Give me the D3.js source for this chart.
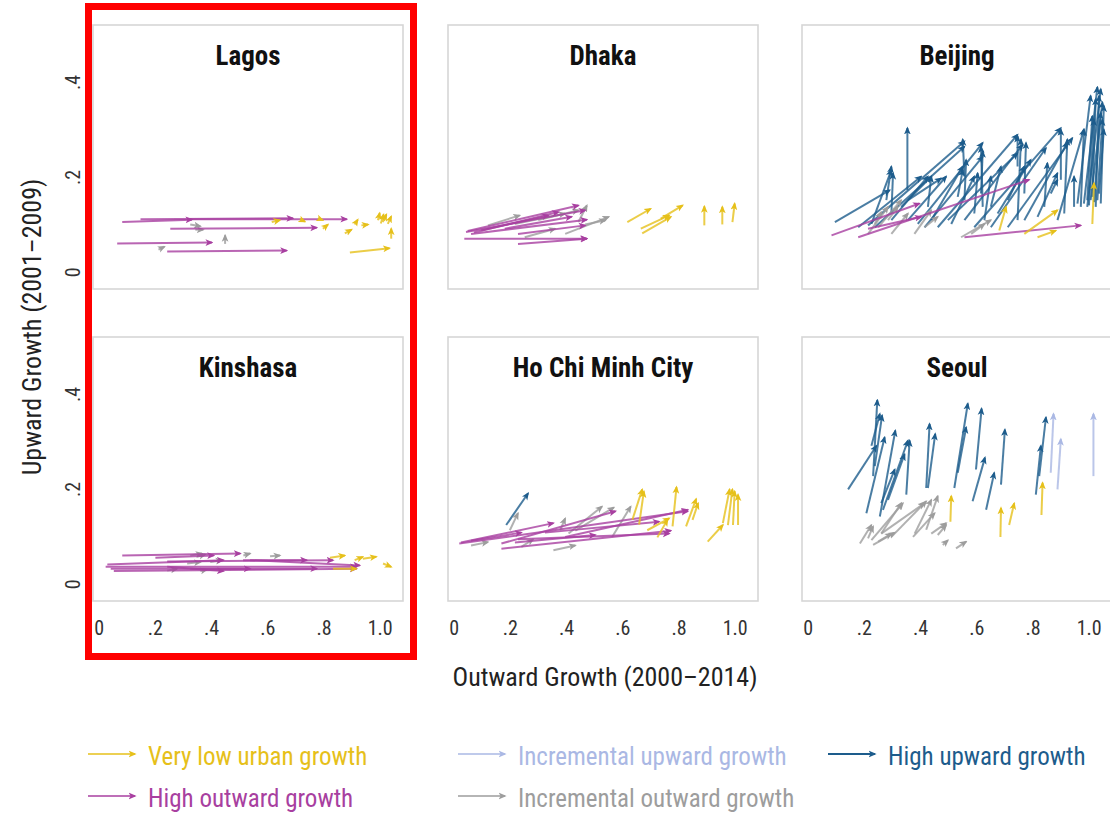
<!DOCTYPE html>
<html><head><meta charset="utf-8">
<script src="https://cdn.jsdelivr.net/npm/d3@7"></script>
<style>
body{margin:0;background:#fff;}
svg text{font-family:"Liberation Sans Narrow","Arial Narrow","Roboto Condensed","DejaVu Sans",sans-serif;font-stretch:condensed;}
</style></head><body>
<svg id="c" width="1110" height="815"></svg>
<script>
// ---------- data ----------
const categories = ["low", "out", "incUp", "incOut", "up"];
const categoryLabels = ["Very low urban growth", "High outward growth", "Incremental upward growth", "Incremental outward growth", "High upward growth"];
const categoryColors = ["#e6c01a", "#a83fa0", "#aab8e4", "#9d9d9d", "#1d5c8c"];
const cities = ["Lagos", "Dhaka", "Beijing", "Kinshasa", "Ho Chi Minh City", "Seoul"];
const xTicks = [0, 0.2, 0.4, 0.6, 0.8, 1.0];
const xTickLabels = ["0", ".2", ".4", ".6", ".8", "1.0"];
const yTicks = [0, 0.2, 0.4];
const yTickLabels = ["0", ".2", ".4"];
const xTitle = "Outward Growth (2000\u20132014)";
const yTitle = "Upward Growth (2001\u20132009)";

// each arrow: [category, outward start, upward start, outward end, upward end]
const lagos = [
 ["out",0.084,0.105,0.332,0.110],["out",0.149,0.111,0.691,0.113],["out",0.326,0.111,0.883,0.111],
 ["out",0.255,0.091,0.776,0.093],["out",0.066,0.060,0.403,0.062],["out",0.244,0.043,0.669,0.045],
 ["incOut",0.326,0.100,0.362,0.096],["incOut",0.344,0.089,0.372,0.089],["incOut",0.213,0.047,0.234,0.053],
 ["incOut",0.450,0.059,0.450,0.077],
 ["low",0.616,0.105,0.645,0.109],["low",0.716,0.111,0.734,0.106],["low",0.780,0.113,0.798,0.109],
 ["low",0.798,0.091,0.816,0.100],["low",0.876,0.081,0.900,0.089],["low",0.911,0.100,0.922,0.110],
 ["low",0.935,0.098,0.959,0.100],["low",0.994,0.109,1.000,0.124],["low",1.004,0.102,1.014,0.121],
 ["low",1.011,0.105,1.024,0.121],["low",1.029,0.101,1.041,0.117],["low",1.041,0.070,1.041,0.091],
 ["low",0.894,0.041,1.035,0.050]
];
const kinshasa = [
 ["out",0.084,0.060,0.504,0.064],["out",0.202,0.055,0.409,0.060],["out",0.031,0.041,0.444,0.050],
 ["out",0.244,0.047,0.834,0.050],["out",0.025,0.036,0.917,0.036],["out",0.043,0.032,0.539,0.032],
 ["out",0.054,0.027,0.917,0.032],["out",0.514,0.050,0.740,0.050],["out",0.326,0.032,0.776,0.032],
 ["out",0.244,0.036,0.444,0.027],["out",0.539,0.050,0.929,0.039],
 ["incOut",0.326,0.060,0.368,0.064],["incOut",0.350,0.057,0.379,0.062],["incOut",0.515,0.060,0.539,0.064],
 ["incOut",0.610,0.058,0.645,0.060],["incOut",0.397,0.046,0.439,0.050],["incOut",0.244,0.028,0.279,0.032],
 ["incOut",0.362,0.027,0.385,0.030],["incOut",0.315,0.043,0.362,0.046],
 ["low",0.823,0.055,0.876,0.060],["low",0.911,0.050,0.940,0.057],["low",0.940,0.053,0.988,0.057],
 ["low",1.012,0.043,1.041,0.036],["low",0.834,0.032,0.917,0.032]
];
const dhaka = [
 ["out",0.038,0.070,0.474,0.070],["out",0.229,0.059,0.474,0.070],["out",0.044,0.084,0.468,0.130],
 ["out",0.050,0.086,0.444,0.140],["out",0.062,0.080,0.474,0.110],["out",0.098,0.087,0.337,0.119],
 ["out",0.182,0.091,0.420,0.116],["out",0.229,0.080,0.468,0.098],["out",0.072,0.083,0.373,0.126],
 ["incOut",0.122,0.098,0.235,0.119],["incOut",0.217,0.101,0.397,0.123],["incOut",0.301,0.109,0.444,0.130],
 ["incOut",0.397,0.080,0.552,0.116],["incOut",0.444,0.105,0.474,0.140],["incOut",0.468,0.100,0.540,0.109],
 ["incOut",0.253,0.073,0.361,0.091],
 ["low",0.618,0.105,0.701,0.133],["low",0.666,0.091,0.767,0.119],["low",0.671,0.081,0.773,0.116],
 ["low",0.737,0.112,0.815,0.140],["low",0.892,0.098,0.892,0.138],["low",0.956,0.100,0.956,0.137],
 ["low",0.992,0.105,1.000,0.144]
];
const hcmc = [
 ["up",0.187,0.124,0.265,0.191],
 ["out",0.020,0.085,0.833,0.153],["out",0.026,0.087,0.355,0.128],["out",0.062,0.091,0.241,0.108],
 ["out",0.170,0.085,0.576,0.153],["out",0.170,0.074,0.773,0.112],["out",0.218,0.087,0.504,0.103],
 ["out",0.325,0.108,0.731,0.131],["out",0.397,0.099,0.833,0.156],["out",0.229,0.094,0.767,0.106],
 ["incOut",0.200,0.113,0.229,0.149],["incOut",0.355,0.071,0.433,0.081],["incOut",0.379,0.113,0.397,0.138],
 ["incOut",0.409,0.106,0.528,0.163],["incOut",0.433,0.112,0.570,0.161],["incOut",0.564,0.099,0.630,0.163],
 ["incOut",0.241,0.078,0.283,0.094],["incOut",0.062,0.081,0.122,0.088],
 ["low",0.636,0.135,0.671,0.199],["low",0.660,0.125,0.677,0.195],["low",0.779,0.121,0.793,0.204],
 ["low",0.689,0.113,0.767,0.138],["low",0.725,0.098,0.761,0.135],["low",0.827,0.121,0.863,0.179],
 ["low",0.850,0.135,0.870,0.170],["low",0.904,0.089,0.958,0.124],["low",0.958,0.128,0.982,0.199],
 ["low",0.976,0.124,0.992,0.199],["low",0.994,0.124,1.000,0.195],["low",1.012,0.124,1.012,0.188]
];
const beijing = [
 ["up",0.097,0.105,0.292,0.172],["up",0.355,0.172,0.355,0.303],["up",0.280,0.151,0.298,0.222],
 ["up",0.227,0.101,0.298,0.215],["up",0.215,0.098,0.558,0.275],["up",0.239,0.094,0.558,0.264],
 ["up",0.298,0.109,0.428,0.201],["up",0.333,0.137,0.440,0.201],["up",0.357,0.109,0.493,0.201],
 ["up",0.392,0.101,0.623,0.272],["up",0.416,0.094,0.623,0.243],["up",0.440,0.109,0.552,0.222],
 ["up",0.463,0.094,0.747,0.289],["up",0.499,0.109,0.747,0.250],["up",0.511,0.101,0.593,0.201],
 ["up",0.558,0.109,0.765,0.268],["up",0.593,0.094,0.901,0.303],["up",0.617,0.165,0.623,0.254],
 ["up",0.629,0.109,0.652,0.201],["up",0.652,0.094,0.848,0.261],["up",0.676,0.123,0.794,0.236],
 ["up",0.712,0.094,0.942,0.282],["up",0.771,0.109,0.924,0.272],["up",0.818,0.116,0.889,0.208],
 ["up",0.842,0.137,0.853,0.229],["up",0.889,0.109,0.983,0.300],["up",0.948,0.137,0.948,0.201],
 ["up",0.960,0.144,1.007,0.371],["up",0.983,0.144,1.031,0.389],["up",0.995,0.137,1.043,0.385],
 ["up",1.007,0.151,1.049,0.357],["up",1.019,0.147,1.043,0.335],["up",1.031,0.151,1.049,0.321],
 ["up",1.037,0.165,1.054,0.300],["up",1.013,0.158,1.025,0.364],["up",1.001,0.140,1.019,0.321],
 ["up",0.972,0.137,0.983,0.300],["up",0.771,0.165,0.777,0.272],["up",0.747,0.109,0.759,0.279],
 ["up",0.558,0.151,0.564,0.236],["up",0.428,0.137,0.440,0.201],["up",0.298,0.123,0.304,0.208],
 ["up",0.652,0.137,0.688,0.222],["up",0.913,0.123,0.924,0.279],["up",0.593,0.123,0.605,0.208],
 ["up",0.534,0.158,0.552,0.215],["up",0.180,0.094,0.404,0.201],["up",0.357,0.151,0.475,0.197],
 ["up",0.712,0.151,0.771,0.222],["up",0.865,0.165,0.889,0.194],["up",1.025,0.137,1.037,0.371],
 ["up",1.043,0.144,1.054,0.350],["up",0.995,0.151,1.013,0.328],["up",0.623,0.137,0.617,0.264],
 ["up",0.558,0.201,0.552,0.279],["up",0.747,0.222,0.747,0.286],["up",0.901,0.194,0.901,0.300],
 ["out",0.085,0.077,0.398,0.144],["out",0.180,0.073,0.788,0.194],["out",0.215,0.091,0.404,0.116],
 ["out",0.558,0.073,0.972,0.098],
 ["incOut",0.215,0.080,0.286,0.137],["incOut",0.251,0.094,0.333,0.151],["incOut",0.298,0.080,0.357,0.123],
 ["incOut",0.380,0.080,0.440,0.130],["incOut",0.416,0.094,0.463,0.116],["incOut",0.546,0.073,0.652,0.109],
 ["incOut",0.582,0.080,0.629,0.101],["incOut",0.286,0.109,0.321,0.137],["incOut",0.239,0.101,0.262,0.126],
 ["low",0.682,0.087,0.706,0.137],["low",0.771,0.080,0.889,0.130],["low",0.818,0.073,0.883,0.087],
 ["low",1.013,0.101,1.019,0.187]
];
const seoul = [
 ["up",0.144,0.199,0.245,0.291],["up",0.233,0.227,0.248,0.387],["up",0.239,0.248,0.265,0.355],
 ["up",0.209,0.149,0.274,0.309],["up",0.257,0.142,0.312,0.323],["up",0.262,0.170,0.310,0.241],
 ["up",0.268,0.156,0.357,0.302],["up",0.286,0.177,0.345,0.273],["up",0.351,0.188,0.363,0.302],
 ["up",0.422,0.202,0.434,0.337],["up",0.428,0.202,0.454,0.316],["up",0.522,0.202,0.570,0.380],
 ["up",0.534,0.234,0.564,0.330],["up",0.599,0.241,0.619,0.369],["up",0.587,0.174,0.631,0.266],
 ["up",0.635,0.156,0.664,0.234],["up",0.688,0.209,0.702,0.325],["up",0.812,0.188,0.830,0.291],
 ["up",0.824,0.227,0.848,0.351],["up",0.227,0.291,0.257,0.358],
 ["incUp",0.865,0.234,0.875,0.358],["incUp",0.889,0.199,0.901,0.305],["incUp",1.017,0.227,1.017,0.358],
 ["low",0.508,0.131,0.511,0.185],["low",0.686,0.099,0.688,0.160],["low",0.717,0.124,0.735,0.170],
 ["low",0.832,0.145,0.836,0.213],
 ["incOut",0.186,0.085,0.227,0.124],["incOut",0.227,0.092,0.339,0.170],["incOut",0.233,0.082,0.310,0.108],
 ["incOut",0.251,0.089,0.298,0.106],["incOut",0.262,0.106,0.416,0.170],["incOut",0.298,0.099,0.422,0.174],
 ["incOut",0.375,0.099,0.452,0.149],["incOut",0.381,0.106,0.440,0.177],["incOut",0.422,0.114,0.463,0.185],
 ["incOut",0.440,0.106,0.493,0.128],["incOut",0.463,0.103,0.493,0.124],["incOut",0.481,0.082,0.499,0.092],
 ["incOut",0.528,0.075,0.564,0.089],["incOut",0.215,0.096,0.233,0.121],["incOut",0.262,0.106,0.333,0.170]
];
const cityArrows = [lagos, dhaka, beijing, kinshasa, hcmc, seoul];

// ---------- layout ----------
const svg = d3.select("#c");
const colLeft = [93, 448, 802], rowTop = [25, 337];
const pw = 310, ph = 264;
const xDomain = [-0.02, 1.083], yDomain = [-0.036, 0.52];
const color = d3.scaleOrdinal().domain(categories).range(categoryColors);
const drawOrder = ["up", "incUp", "incOut", "out", "low"];

const defs = svg.append("defs");
categories.forEach(c => {
  defs.append("marker").attr("id", "ah-" + c)
    .attr("viewBox", "0 0 10 10").attr("refX", 8).attr("refY", 5)
    .attr("markerUnits", "userSpaceOnUse").attr("markerWidth", 8).attr("markerHeight", 8)
    .attr("orient", "auto")
    .append("path").attr("d", "M0,0.8 L10,5 L0,9.2 L2.5,5 Z").attr("fill", color(c));
});

cities.forEach((city, i) => {
  const col = i % 3, row = Math.floor(i / 3);
  const x = d3.scaleLinear().domain(xDomain).range([colLeft[col], colLeft[col] + pw]);
  const y = d3.scaleLinear().domain(yDomain).range([rowTop[row] + ph, rowTop[row]]);
  const g = svg.append("g");
  g.append("rect").attr("x", colLeft[col]).attr("y", rowTop[row]).attr("width", pw).attr("height", ph)
    .attr("fill", "#fff").attr("stroke", "#d6d6d6").attr("stroke-width", 1.6);
  g.append("text").attr("x", colLeft[col] + pw / 2).attr("y", rowTop[row] + 40)
    .attr("text-anchor", "middle").attr("font-size", 27).attr("font-weight", "bold")
    .attr("fill", "#111").text(city);
  const data = cityArrows[i].slice().sort((a, b) => drawOrder.indexOf(a[0]) - drawOrder.indexOf(b[0]));
  g.selectAll("line.arrow").data(data).join("line").attr("class", "arrow")
    .attr("x1", d => x(d[1])).attr("y1", d => y(d[2]))
    .attr("x2", d => x(d[3])).attr("y2", d => y(d[4]))
    .attr("stroke", d => color(d[0])).attr("stroke-width", 2).attr("stroke-opacity", 0.8)
    .attr("marker-end", d => "url(#ah-" + d[0] + ")");

  if (row === 1) {
    const ax = svg.append("g").attr("transform", `translate(0,${rowTop[row] + ph + 34})`)
      .call(d3.axisBottom(x).tickValues(xTicks).tickFormat((d, k) => xTickLabels[k]).tickSize(0).tickPadding(0));
    ax.select(".domain").remove();
    ax.selectAll("text").attr("dy", 0).attr("font-size", 20).attr("fill", "#333");
  }
  if (col === 0) {
    const ay = svg.append("g").attr("transform", `translate(80,0)`)
      .call(d3.axisLeft(y).tickValues(yTicks).tickFormat((d, k) => yTickLabels[k]).tickSize(0));
    ay.select(".domain").remove();
    ay.selectAll("text").attr("x", 0).attr("dy", 0).attr("text-anchor", "middle")
      .attr("transform", "rotate(-90)").attr("font-size", 20).attr("fill", "#333");
  }
});
svg.selectAll(".tick text").attr("font-family", null);

// axis titles
svg.append("text").attr("x", 605).attr("y", 686).attr("text-anchor", "middle")
  .attr("font-size", 26).attr("fill", "#222").text(xTitle);
svg.append("text").attr("transform", "translate(41,327) rotate(-90)").attr("text-anchor", "middle")
  .attr("font-size", 26).attr("fill", "#222").text(yTitle);

// legend
const legendPos = [[88, 754], [88, 796], [458, 754], [458, 796], [828, 754]];
categories.forEach((c, i) => {
  const [lx, ly] = legendPos[i];
  svg.append("line").attr("x1", lx).attr("y1", ly).attr("x2", lx + 47).attr("y2", ly)
    .attr("stroke", color(c)).attr("stroke-width", c === "up" ? 2.2 : 1.6)
    .attr("marker-end", "url(#ah-" + c + ")");
  svg.append("text").attr("x", lx + 60).attr("y", ly + 11).attr("font-size", 25)
    .attr("fill", color(c)).text(categoryLabels[i]);
});

// highlight box
svg.append("rect").attr("x", 88.5).attr("y", 6.5).attr("width", 325).attr("height", 650)
  .attr("fill", "none").attr("stroke", "#ff0000").attr("stroke-width", 7);
</script>
</body></html>
